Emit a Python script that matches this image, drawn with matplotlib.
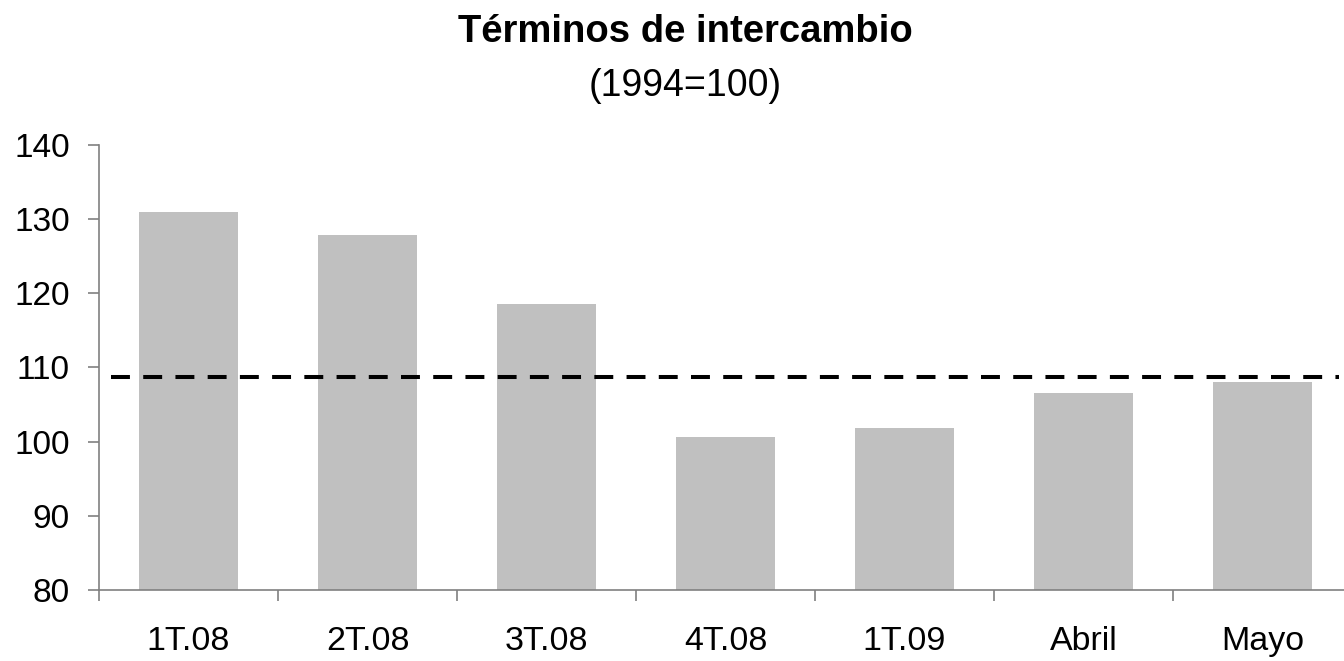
import matplotlib
matplotlib.use("Agg")
import matplotlib.pyplot as plt

categories = ["1T.08", "2T.08", "3T.08", "4T.08", "1T.09", "Abril", "Mayo"]
values = [131.0, 127.9, 118.6, 100.6, 101.8, 106.6, 108.0]
average_level = 108.7

title = "Términos de intercambio"
subtitle = "(1994=100)"
yticks = [80, 90, 100, 110, 120, 130, 140]

plt.rcParams["font.family"] = ["Liberation Sans", "DejaVu Sans"]

W, H = 1344, 661
fig = plt.figure(figsize=(W / 100, H / 100), dpi=100)
ax = fig.add_axes([99 / W, (H - 590) / H, 1253 / W, 445 / H])

x = list(range(len(categories)))
ax.bar(x, values, width=0.555, color="#c0c0c0", zorder=2)

line = ax.hlines(average_level, -0.433, 6.43, colors="black", linewidth=2.9, zorder=3)
line.set_linestyle((0, (4.7, 3.3)))

ax.set_xlim(-0.5, 6.5)
ax.set_ylim(80, 140)
ax.set_yticks(yticks)
ax.set_xticks([i - 0.5 for i in x])
ax.set_xticklabels([])
ax.set_xticks(x, minor=True)
ax.set_xticklabels(categories, minor=True)
ax.tick_params(axis="x", which="minor", length=0, pad=26, labelsize=24.5)
ax.tick_params(axis="x", which="major", length=8, width=1.2, color="#808080", direction="out")
ax.tick_params(axis="y", length=8, width=1.2, color="#808080", direction="out", pad=13, labelsize=24)

for side in ("top", "right"):
    ax.spines[side].set_visible(False)
for side in ("left", "bottom"):
    ax.spines[side].set_color("#808080")
    ax.spines[side].set_linewidth(1.2)
ax.spines["left"].set_bounds(80, 140)

fig.text(0.51, (H - 42) / H, title, ha="center", va="baseline", fontsize=27.5, fontweight="bold")
fig.text(0.51, (H - 96) / H, subtitle, ha="center", va="baseline", fontsize=27)

fig.savefig("out.png", dpi=100)
